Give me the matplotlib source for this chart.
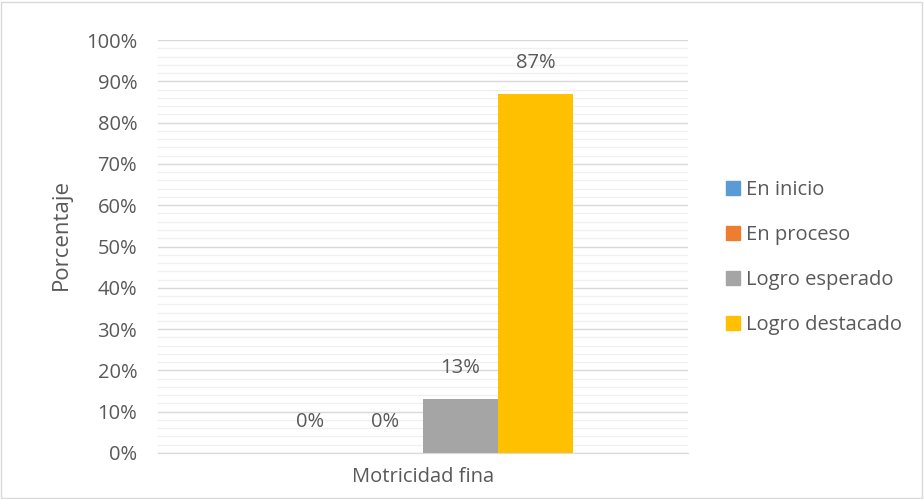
import matplotlib.pyplot as plt
import matplotlib.patches as mpatches
from matplotlib.ticker import MultipleLocator, FuncFormatter

categories = ["Motricidad fina"]
series_names = ["En inicio", "En proceso", "Logro esperado", "Logro destacado"]
values = [0, 0, 13, 87]
colors = ["#5b9bd5", "#ed7d31", "#a5a5a5", "#ffc000"]

plt.rcParams['font.family'] = ['Open Sans', 'DejaVu Sans']
txt = "#595959"
fs = 14.5

fig = plt.figure(figsize=(9.24, 4.99), dpi=100)
ax = fig.add_axes([158/924, 1-453/499, 530/924, 413/499])

w = 75/530
offsets = [-1.5*w, -0.5*w, 0.5*w, 1.5*w]
handles = []
for name, v, c, off in zip(series_names, values, colors, offsets):
    ax.bar(0 + off, v, width=w, color=c, label=name, zorder=3)
    ax.text(0 + off, v + 7.5, f"{v}%", ha='center', va='center', fontsize=fs, color=txt, zorder=4)
    handles.append(mpatches.Patch(color=c, label=name))

ax.set_xlim(-0.5, 0.5)
ax.set_ylim(0, 100)
ax.yaxis.set_major_locator(MultipleLocator(10))
ax.yaxis.set_minor_locator(MultipleLocator(2))
ax.yaxis.set_major_formatter(FuncFormatter(lambda v, p: f"{int(round(v))}%"))
ax.grid(axis='y', which='major', color='#d9d9d9', linewidth=1, zorder=0)
ax.grid(axis='y', which='minor', color='#f0f0f0', linewidth=1, zorder=0)
ax.set_xticks([0])
ax.set_xticklabels(categories)
ax.tick_params(axis='both', which='both', length=0, labelsize=fs, labelcolor=txt)
ax.tick_params(axis='x', pad=10)
ax.tick_params(axis='y', pad=15)
for s in ['top', 'right', 'left']:
    ax.spines[s].set_visible(False)
ax.spines['bottom'].set_color('#d9d9d9')
ax.set_ylabel("Porcentaje", fontsize=16, color=txt)
ax.yaxis.set_label_coords(-0.163, 0.528)

leg = fig.legend(handles=handles, loc='upper left', bbox_to_anchor=(726/924, 1-180/499),
                 frameon=False, fontsize=fs, labelspacing=1.24, handlelength=0.7,
                 handleheight=0.7, handletextpad=0.3, borderaxespad=0, borderpad=0)
for t in leg.get_texts():
    t.set_color(txt)

fig.patches.append(mpatches.Rectangle((1/924, 1/499), 921/924, 496/499, transform=fig.transFigure,
                                      fill=False, edgecolor='#d9d9d9', linewidth=1))

fig.savefig("out.png", dpi=100)
